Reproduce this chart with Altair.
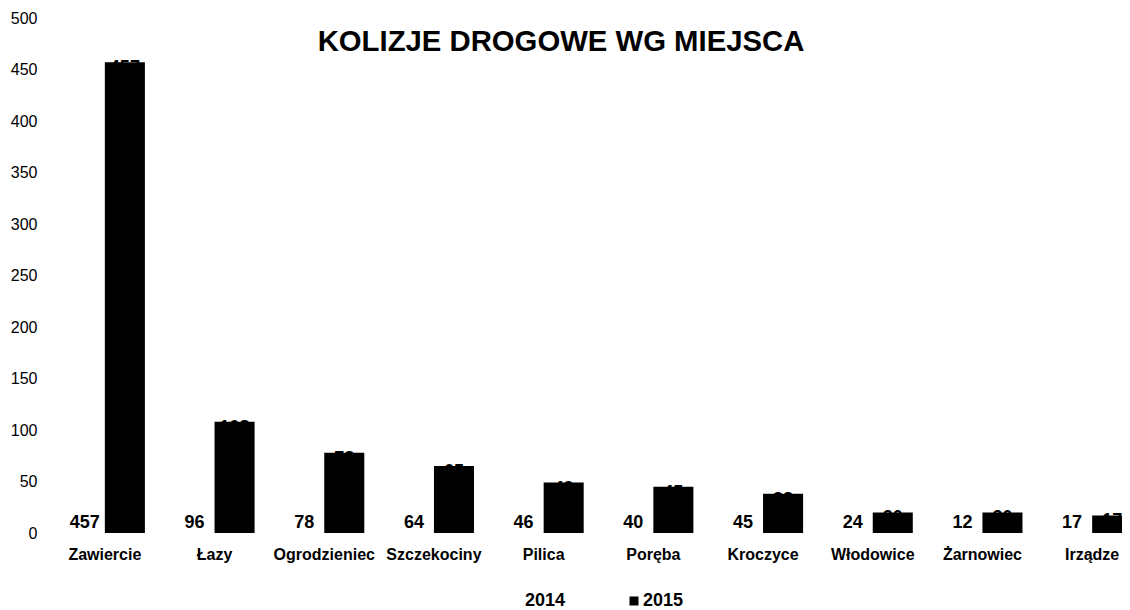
import altair as alt
import pandas as pd

# ---- data ----
places = ["Zawiercie", "Łazy", "Ogrodzieniec", "Szczekociny", "Pilica",
          "Poręba", "Kroczyce", "Włodowice", "Żarnowiec", "Irządze"]
values_2014 = [457, 96, 78, 64, 46, 40, 45, 24, 12, 17]
values_2015 = [457, 108, 78, 65, 49, 45, 38, 20, 20, 17]
years = ["2014", "2015"]
y_ticks = [0, 50, 100, 150, 200, 250, 300, 350, 400, 450, 500]
title_text = "KOLIZJE DROGOWE WG MIEJSCA"

rows = []
for i, p in enumerate(places):
    rows.append({"place": p, "year": "2014", "value": values_2014[i], "base": 0})
    rows.append({"place": p, "year": "2015", "value": values_2015[i], "base": 0})
df = pd.DataFrame(rows)

FONT = "Liberation Sans"

x_enc = alt.X(
    "place:N", sort=places,
    scale=alt.Scale(range=[0, 1097], paddingInner=0.27, paddingOuter=0.135),
    axis=alt.Axis(title=None, labelAngle=0, labelFont=FONT, labelFontSize=16,
                  labelFontWeight="bold", labelColor="black", labelPadding=13,
                  domain=False, ticks=False, tickSize=0, labelOverlap=False, grid=False),
)
xo_enc = alt.XOffset("year:N", sort=years, scale=alt.Scale(paddingInner=0, paddingOuter=0))
y_scale = alt.Scale(domain=[0, 500], nice=False, zero=True)
y_axis = alt.Axis(title=None, values=y_ticks, labelFont=FONT, labelFontSize=16,
                  labelColor="black", labelPadding=13, domain=False, ticks=False,
                  tickSize=0, grid=False)

color_enc = alt.Color(
    "year:N", sort=years,
    scale=alt.Scale(domain=years, range=["white", "black"]),
    legend=alt.Legend(title=None, orient="none", legendX=457, legendY=574,
                      direction="horizontal", symbolType="square", symbolSize=81,
                      symbolStrokeWidth=0, labelFont=FONT, labelFontSize=18,
                      labelFontWeight="bold", labelColor="black", columnPadding=59,
                      labelOffset=0, padding=0),
)

base = alt.Chart(df)

bars = base.mark_bar(strokeWidth=0).encode(
    x=x_enc, xOffset=xo_enc,
    y=alt.Y("value:Q", scale=y_scale, axis=y_axis),
    color=color_enc,
)

labels_2014 = base.transform_filter(alt.datum.year == "2014").mark_text(
    font=FONT, fontSize=18, fontWeight="bold", color="black",
    baseline="alphabetic", dy=-5,
).encode(
    x=x_enc, xOffset=xo_enc,
    y=alt.Y("base:Q", scale=y_scale, axis=y_axis),
    text="value:Q",
)

labels_2015 = base.transform_filter(alt.datum.year == "2015").mark_text(
    font=FONT, fontSize=18, fontWeight="bold", color="black",
    baseline="top", dy=-3,
).encode(
    x=x_enc, xOffset=xo_enc,
    y=alt.Y("value:Q", scale=y_scale, axis=y_axis),
    text="value:Q",
)

chart = alt.layer(bars, labels_2014, labels_2015).properties(
    width=1072, height=515,
    background="white",
    title=alt.TitleParams(title_text, font=FONT, fontSize=29.3, fontWeight="bold",
                          color="black", anchor="middle", frame="group", offset=0,
                          baseline="top", dx=-25, dy=47),
    autosize=alt.AutoSizeParams(type="none"),
    padding={"left": 42, "top": 10, "right": 0, "bottom": 76},
).configure_view(strokeWidth=0).configure_axis(grid=False)

chart.save("out.html", embed_options={"renderer": "svg", "actions": False})
